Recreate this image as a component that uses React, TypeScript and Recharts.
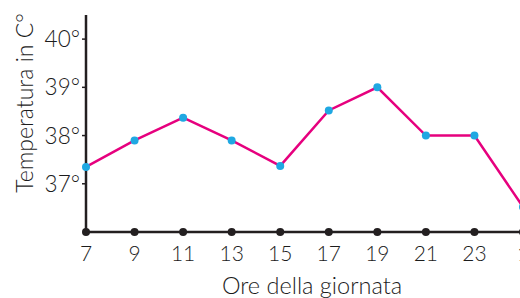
import { LineChart, Line, XAxis, YAxis } from "recharts";

const HOURS = ["7", "9", "11", "13", "15", "17", "19", "21", "23", "1"];
const TEMPS = [37.35, 37.9, 38.37, 37.9, 37.37, 38.52, 39.0, 38.0, 38.0, 36.52];
const Y_TICKS = [37, 38, 39, 40];

const INK = "#231F20";
const TEXT = "#1c1c1c";
const FONT = "Lato, 'Open Sans', sans-serif";

const data = HOURS.map((h, i) => ({ hour: h, temp: TEMPS[i] }));

// black dot on the axis + hour label under it
function HourTick(props: any) {
  const { x, y, payload } = props;
  return (
    <g>
      <circle cx={x} cy={y} r={4} fill={INK} />
      <text
        x={x}
        y={y + 29}
        textAnchor="middle"
        fontSize={21}
        fontWeight={300}
        fill={TEXT}
        fontFamily={FONT}
      >
        {payload.value}
      </text>
    </g>
  );
}

export default function App() {
  return (
    <div
      style={{
        position: "absolute",
        left: 0,
        top: 0,
        width: 520,
        height: 298,
        overflow: "hidden",
        background: "#fff",
      }}
    >
      <LineChart
        width={540}
        height={298}
        data={data}
        margin={{ top: 15, right: 17, left: 0, bottom: 0 }}
      >
        <XAxis
          dataKey="hour"
          interval={0}
          tickLine={false}
          tickSize={0}
          tickMargin={0}
          height={66}
          axisLine={{ stroke: INK, strokeWidth: 2.5 }}
          tick={<HourTick />}
          label={{
            content: () => (
              <text
                x={312}
                y={294}
                textAnchor="middle"
                fontSize={23.5}
                fontWeight={300}
                fill={TEXT}
                fontFamily={FONT}
              >
                Ore della giornata
              </text>
            ),
          }}
        />
        <YAxis
          width={86}
          domain={[36, 40.5]}
          ticks={Y_TICKS}
          tickFormatter={(v) => `${v}°`}
          tickSize={4}
          tickMargin={2}
          tickLine={{ stroke: INK, strokeWidth: 1.5 }}
          axisLine={{ stroke: INK, strokeWidth: 2.5 }}
          tick={{ fill: TEXT, fontSize: 22.5, fontWeight: 300, fontFamily: FONT }}
          label={{
            content: () => (
              <text
                x={24}
                y={103}
                transform="rotate(-90, 24, 103)"
                textAnchor="middle"
                dominantBaseline="central"
                fontSize={23}
                fontWeight={300}
                fill={TEXT}
                fontFamily={FONT}
              >
                Temperatura in C°
              </text>
            ),
          }}
        />
        <Line
          type="linear"
          dataKey="temp"
          stroke="#E6007E"
          strokeWidth={2.5}
          dot={{ r: 4, fill: "#1FA8E2", stroke: "none" }}
          isAnimationActive={false}
        />
      </LineChart>
    </div>
  );
}
